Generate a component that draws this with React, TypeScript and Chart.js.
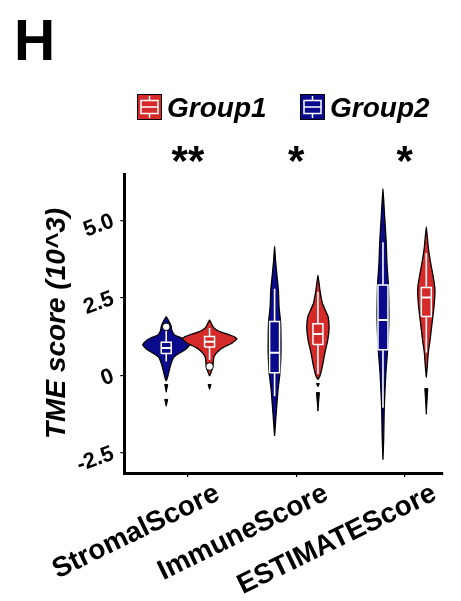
import React, { useEffect, useRef } from "react";
import { Chart, registerables } from "chart.js";

Chart.register(...registerables);

const FONT = '"Liberation Sans", Arial, Helvetica, sans-serif';

const PANEL_LABEL = "H";
const categories = ["StromalScore", "ImmuneScore", "ESTIMATEScore"];
const groupNames = ["Group1", "Group2"];
const significance = ["**", "*", "*"];
const yTickValues = [-2.5, 0, 2.5, 5.0];
const yTickLabels = ["-2.5", "0", "2.5", "5.0"];
const yTitle = "TME score (10^3)";

// violin density profiles: [score, half-width density], bottom to top
const stromalGroup1Violin: [number, number][] = [
  [-0.02, 0], [0.14, 0.018], [0.35, 0.032], [0.57, 0.038], [0.65, 0.048], [0.73, 0.064],
  [0.81, 0.087], [0.89, 0.119], [0.97, 0.165], [1.05, 0.21], [1.12, 0.233], [1.18, 0.252],
  [1.22, 0.242], [1.26, 0.22], [1.31, 0.183], [1.37, 0.133], [1.41, 0.101], [1.45, 0.073],
  [1.53, 0.041], [1.6, 0.027], [1.7, 0.014], [1.79, 0],
];
const immuneGroup1Violin: [number, number][] = [
  [-0.13, 0], [-0.02, 0.018], [0.3, 0.041], [0.73, 0.064], [1.15, 0.091], [1.53, 0.103],
  [1.9, 0.094], [2.1, 0.069], [2.33, 0.041], [2.76, 0.018], [3.24, 0],
];
const estimateGroup1Violin: [number, number][] = [
  [-0.06, 0], [0.3, 0.009], [0.73, 0.018], [1.15, 0.035], [1.69, 0.053], [2.22, 0.071],
  [2.76, 0.08], [3.18, 0.064], [3.61, 0.041], [4.14, 0.018], [4.79, 0],
];
const stromalGroup2Violin: [number, number][] = [
  [-0.18, 0], [-0.06, 0.012], [0.09, 0.023], [0.3, 0.037], [0.51, 0.058], [0.6, 0.073],
  [0.67, 0.098], [0.75, 0.137], [0.83, 0.174], [0.92, 0.201], [0.99, 0.217], [1.05, 0.206],
  [1.1, 0.192], [1.16, 0.169], [1.21, 0.144], [1.26, 0.105], [1.31, 0.076], [1.45, 0.052],
  [1.58, 0.046], [1.7, 0.032], [1.82, 0.014], [1.9, 0],
];
const immuneGroup2Violin: [number, number][] = [
  [-1.95, 0], [-1.41, 0.011], [-0.98, 0.02], [-0.45, 0.032], [0.09, 0.05], [0.73, 0.059],
  [1.2, 0.059], [1.74, 0.055], [2.22, 0.041], [2.76, 0.035], [3.29, 0.02], [3.7, 0.009], [4.17, 0],
];
const estimateGroup2Violin: [number, number][] = [
  [-2.72, 0], [-2.0, 0.007], [-1.03, 0.012], [-0.55, 0.018], [0.09, 0.027], [0.73, 0.041],
  [1.3, 0.05], [2.0, 0.055], [2.92, 0.05], [3.61, 0.037], [4.36, 0.029], [5.21, 0.014], [6.03, 0],
];

// box stats per category: [lowerWhisker, q1, median, q3, upperWhisker]
const group1Boxes = [
  [0.5, 0.92, 1.09, 1.26, 1.53],
  [0.05, 1.0, 1.34, 1.67, 2.7],
  [0.74, 1.9, 2.52, 2.84, 3.95],
];
const group2Boxes = [
  [0.45, 0.71, 0.89, 1.07, 1.45],
  [-0.67, 0.09, 0.73, 1.74, 2.8],
  [-1.04, 0.83, 1.79, 2.92, 4.3],
];
const group1Outliers = [[0.29], [], []];
const group2Outliers = [[1.57], [], []];
// thin tail fragments below the violins: [top, bottom]
const group1Tails = [[[-0.29, -0.45]], [[-0.26, -0.36], [-0.55, -1.15]], [[-0.42, -1.25]]];
const group2Tails = [[[-0.29, -0.54], [-0.77, -0.99]], [], []];

// ---- styling / layout constants ----
const RED = "#D42A2A";
const BLUE = "#0A0A8C";
const GROUP_OFFSET = 0.2;
const BOX_HALF = 0.046;
const TAIL_HALF = 0.014;

const groups = [
  {
    name: groupNames[0], color: RED, offset: GROUP_OFFSET, order: 9,
    violins: [stromalGroup1Violin, immuneGroup1Violin, estimateGroup1Violin],
    boxes: group1Boxes, outliers: group1Outliers, tails: group1Tails,
  },
  {
    name: groupNames[1], color: BLUE, offset: -GROUP_OFFSET, order: 10,
    violins: [stromalGroup2Violin, immuneGroup2Violin, estimateGroup2Violin],
    boxes: group2Boxes, outliers: group2Outliers, tails: group2Tails,
  },
];

function buildDatasets() {
  const ds: any[] = [];
  const base = { pointRadius: 0, pointHitRadius: 0, fill: false, tension: 0 };
  groups.forEach((g) => {
    categories.forEach((cat, i) => {
      const c = i + 1 + g.offset;
      const prof = g.violins[i];
      const left = prof.map(([v, d]) => ({ x: c - d, y: v }));
      const right = prof.slice(0, -1).reverse().map(([v, d]) => ({ x: c + d, y: v }));
      ds.push({
        ...base, label: `${g.name} ${cat} violin`, data: [...left, ...right],
        borderColor: "#000", borderWidth: 1.3, backgroundColor: g.color,
        fill: "shape", tension: 0.15, order: g.order,
      });
      g.tails[i].forEach(([t, b]) => {
        ds.push({
          ...base, label: "tail", data: [
            { x: c - TAIL_HALF, y: t }, { x: c + TAIL_HALF, y: t }, { x: c, y: b }, { x: c - TAIL_HALF, y: t },
          ],
          borderColor: "#000", borderWidth: 1, backgroundColor: "#000", fill: "shape", order: 6,
        });
      });
      const [lo, q1, med, q3, hi] = g.boxes[i];
      ds.push({
        ...base, label: "whisker", data: [{ x: c, y: lo }, { x: c, y: hi }],
        borderColor: "#fff", borderWidth: 1.6, order: 5,
      });
      ds.push({
        ...base, label: "box", data: [
          { x: c - BOX_HALF, y: q1 }, { x: c + BOX_HALF, y: q1 }, { x: c + BOX_HALF, y: q3 },
          { x: c - BOX_HALF, y: q3 }, { x: c - BOX_HALF, y: q1 },
        ],
        borderColor: "#fff", borderWidth: 1.5, backgroundColor: g.color, fill: "shape", order: 4,
      });
      ds.push({
        ...base, label: "median", data: [{ x: c - BOX_HALF, y: med }, { x: c + BOX_HALF, y: med }],
        borderColor: "#fff", borderWidth: 2, order: 3,
      });
      if (g.outliers[i].length) {
        ds.push({
          ...base, label: "outlier", data: g.outliers[i].map((v) => ({ x: c, y: v })),
          showLine: false, pointRadius: 3.8, pointBackgroundColor: "#fff",
          pointBorderColor: "#000", pointBorderWidth: 1, order: 2,
        });
      }
    });
  });
  return ds;
}

function drawLegendIcon(ctx: CanvasRenderingContext2D, x: number, y: number, color: string) {
  const w = 25, h = 26;
  ctx.fillStyle = color;
  ctx.fillRect(x, y, w, h);
  ctx.strokeStyle = "#000";
  ctx.lineWidth = 1;
  ctx.strokeRect(x + 0.5, y + 0.5, w - 1, h - 1);
  ctx.strokeStyle = "#fff";
  ctx.lineWidth = 1.5;
  ctx.strokeRect(x + 4, y + 6.5, w - 8, h - 13);
  ctx.beginPath();
  ctx.moveTo(x + 4, y + h / 2);
  ctx.lineTo(x + w - 4, y + h / 2);
  ctx.moveTo(x + w / 2, y + 2);
  ctx.lineTo(x + w / 2, y + 6.5);
  ctx.moveTo(x + w / 2, y + h - 6.5);
  ctx.lineTo(x + w / 2, y + h - 2);
  ctx.stroke();
}

const extrasPlugin = {
  id: "extras",
  afterDraw(chart: any) {
    const ctx: CanvasRenderingContext2D = chart.ctx;
    const xs = chart.scales.x;
    ctx.save();
    ctx.fillStyle = "#000";
    ctx.textBaseline = "alphabetic";
    ctx.textAlign = "left";
    ctx.font = `bold 57px ${FONT}`;
    ctx.fillText(PANEL_LABEL, 14, 60);

    ctx.font = `bold 42px ${FONT}`;
    ctx.textAlign = "center";
    significance.forEach((s, i) => ctx.fillText(s, xs.getPixelForValue(i + 1), 175));

    const legendPos = [
      { icon: 137, text: 167 },
      { icon: 300, text: 330 },
    ];
    groups.forEach((g, i) => {
      drawLegendIcon(ctx, legendPos[i].icon, 94, g.color);
      ctx.fillStyle = "#000";
      ctx.textAlign = "left";
      ctx.font = `italic bold 28px ${FONT}`;
      ctx.fillText(g.name, legendPos[i].text, 117);
    });
    ctx.restore();
  },
};

export default function App() {
  const ref = useRef<HTMLCanvasElement | null>(null);
  useEffect(() => {
    if (!ref.current) return;
    const chart = new Chart(ref.current, {
      type: "line",
      data: { datasets: buildDatasets() },
      options: {
        animation: false,
        responsive: false,
        events: [],
        layout: { padding: { top: 174, right: 18, left: 38, bottom: 0 } },
        plugins: { legend: { display: false }, tooltip: { enabled: false } },
        scales: {
          x: {
            type: "linear",
            min: 0.413,
            max: 3.354,
            afterBuildTicks: (s: any) => {
              s.ticks = categories.map((_, i) => ({ value: i + 1 }));
            },
            afterFit: (s: any) => {
              s.height = 128;
            },
            grid: { display: true, drawOnChartArea: false, drawTicks: true, tickLength: 4, color: "#000", lineWidth: 1.2 },
            border: { display: true, color: "#000", width: 3 },
            ticks: {
              autoSkip: false,
              minRotation: 26,
              maxRotation: 26,
              labelOffset: 30,
              padding: 0,
              color: "#000",
              font: { family: FONT, size: 28, weight: "bold" },
              callback: (v: any) => categories[Math.round(Number(v)) - 1] ?? "",
            },
          },
          y: {
            type: "linear",
            min: -3.145,
            max: 6.5,
            afterBuildTicks: (s: any) => {
              s.ticks = yTickValues.map((v) => ({ value: v }));
            },
            afterFit: (s: any) => {
              s.width = 83.5;
            },
            grid: { display: true, drawOnChartArea: false, drawTicks: true, tickLength: 4, color: "#000", lineWidth: 1.2 },
            border: { display: true, color: "#000", width: 3 },
            ticks: {
              minRotation: 20,
              maxRotation: 20,
              padding: 7,
              color: "#000",
              font: { family: FONT, size: 22, weight: "bold" },
              callback: (_v: any, i: number) => yTickLabels[i] ?? "",
            },
            title: {
              display: true,
              text: yTitle,
              color: "#000",
              padding: 0,
              font: { family: FONT, size: 28, weight: "bold", style: "italic" },
            },
          },
        },
      } as any,
      plugins: [extrasPlugin],
    });
    return () => chart.destroy();
  }, []);
  return (
    <div style={{ position: "fixed", left: 0, top: 0, width: 461, height: 601, background: "#fff" }}>
      <canvas ref={ref} width={461} height={601} style={{ display: "block", width: 461, height: 601 }} />
    </div>
  );
}
